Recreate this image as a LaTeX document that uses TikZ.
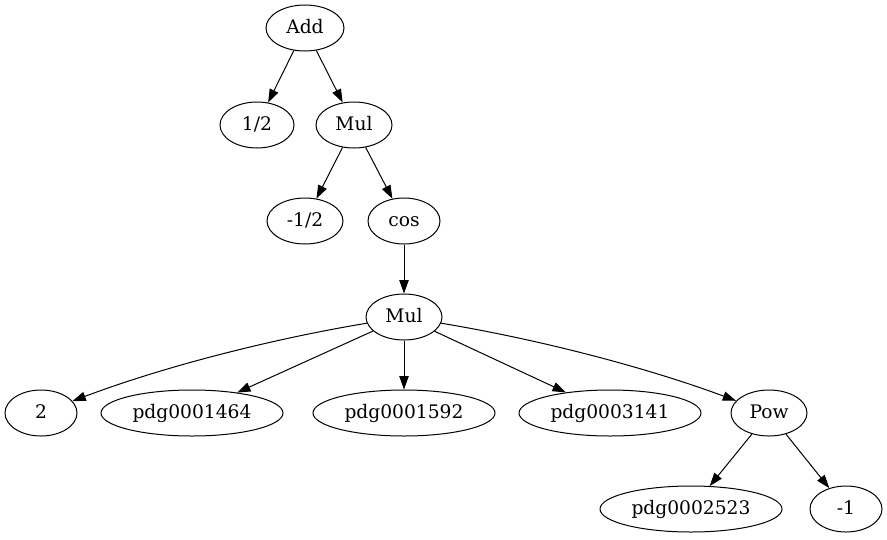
\documentclass[tikz,border=0pt]{standalone}
\usepackage{fontspec}
\setmainfont{DejaVu Serif}
\usetikzlibrary{shapes.geometric,arrows.meta}
\begin{document}
\begin{tikzpicture}[x=0.75pt,y=-0.75pt,
  tnode/.style={ellipse,draw,line width=0.75pt,minimum height=34.5pt,inner sep=0pt,text height=10.5pt,text depth=3pt,font=\fontsize{14pt}{16pt}\selectfont},
  edge/.style={line width=0.75pt,-{Triangle[length=10pt,width=7pt]}}]
\useasboundingbox (0,0) rectangle (887,539);
\node[tnode,minimum width=58.5pt] (add) at (305,28) {Add};
\node[tnode,minimum width=55.5pt] (half) at (257,125) {1/2};
\node[tnode,minimum width=57pt] (mul1) at (354,125) {Mul};
\node[tnode,minimum width=57pt] (mhalf) at (305,221) {-1/2};
\node[tnode,minimum width=54pt] (cos) at (404,221) {cos};
\node[tnode,minimum width=57pt] (mul2) at (404,317) {Mul};
\node[tnode,minimum width=54pt] (two) at (41,413) {2};
\node[tnode,minimum width=136.5pt] (p1464) at (192,413) {pdg0001464};
\node[tnode,minimum width=136.5pt] (p1592) at (404,413) {pdg0001592};
\node[tnode,minimum width=136.5pt] (p3141) at (610,413) {pdg0003141};
\node[tnode,minimum width=57pt] (pow) at (769,413) {Pow};
\node[tnode,minimum width=136.5pt] (p2523) at (691,509) {pdg0002523};
\node[tnode,minimum width=54pt] (mone) at (846,509) {-1};
\draw[edge] (add) -- (half);
\draw[edge] (add) -- (mul1);
\draw[edge] (mul1) -- (mhalf);
\draw[edge] (mul1) -- (cos);
\draw[edge] (cos) -- (mul2);
\draw[edge] (mul2) .. controls (266,340) and (160,368) .. (two);
\draw[edge] (mul2) -- (p1464);
\draw[edge] (mul2) -- (p1592);
\draw[edge] (mul2) -- (p3141);
\draw[edge] (mul2) .. controls (542,340) and (648,368) .. (pow);
\draw[edge] (pow) -- (p2523);
\draw[edge] (pow) -- (mone);
\end{tikzpicture}
\end{document}
